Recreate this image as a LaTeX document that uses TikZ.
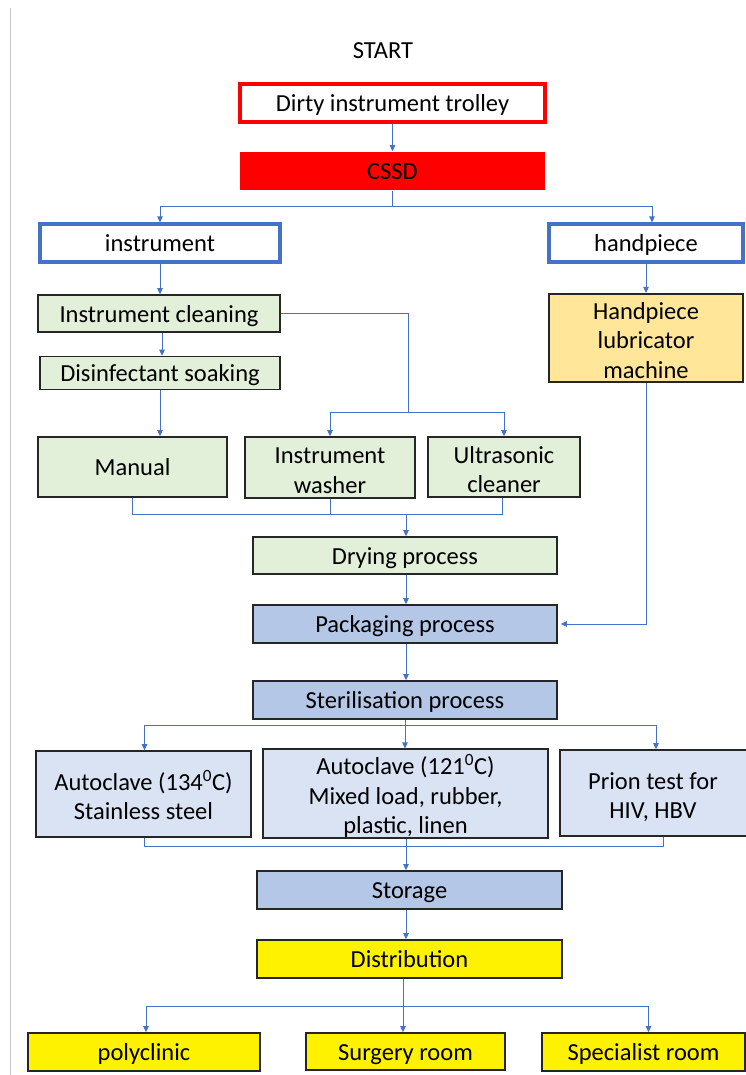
\documentclass[tikz,border=0pt]{standalone}
\usepackage{fontspec}
\setmainfont{Carlito}
\usetikzlibrary{arrows.meta}
\definecolor{linkblue}{HTML}{4472C4}
\definecolor{greenfill}{HTML}{E2F0D9}
\definecolor{bluefill}{HTML}{B4C7E7}
\definecolor{paleblue}{HTML}{DAE3F3}
\definecolor{lubefill}{HTML}{FFE699}
\definecolor{darkborder}{HTML}{262626}
\newcommand{\mlines}[2][0pt]{\kern#1\raisebox{-5pt}[\height][\depth]{\begin{tabular}{@{}c@{}}#2\end{tabular}}}
\tikzset{
  box/.style={draw=darkborder, line width=1.6pt, inner sep=0pt, align=center, font=\fontsize{24.5}{29.5}\selectfont},
  one/.style={text height=23.5pt, text depth=6pt},
  greenbox/.style={box, fill=greenfill},
  bluebox/.style={box, fill=bluefill},
  palebox/.style={box, fill=paleblue},
  yellowbox/.style={box, fill=yellow},
  lubebox/.style={box, fill=lubefill},
  redframe/.style={box, draw=red, line width=3.2pt, fill=white},
  blueframe/.style={box, draw=linkblue, line width=3.2pt, fill=white},
  redfill/.style={box, draw=none, fill=red},
  link/.style={draw=linkblue, line width=0.8pt},
  arr/.style={link, -{Triangle[width=5.5pt,length=6pt]}},
}
\begin{document}
\begin{tikzpicture}[x=1pt,y=-1pt]
\useasboundingbox (0,0) rectangle (745,1075);
\draw[gray!45, line width=0.8pt] (10,8) -- (10,1075);

\node[font=\fontsize{24.5}{29.5}\selectfont, one, inner sep=0pt] (start) at (383,50) {START};
\node[redframe, one, minimum width=305, minimum height=38] (dirty) at (392.5,103) {Dirty instrument trolley};
\node[redfill, one, minimum width=305, minimum height=38] (cssd) at (392.5,171) {CSSD};
\node[blueframe, one, minimum width=240, minimum height=38] (instr) at (160,243) {instrument};
\node[blueframe, one, minimum width=194, minimum height=38] (handp) at (646,243) {handpiece};
\node[greenbox, one, minimum width=242, minimum height=37] (clean) at (159,313.5) {Instrument cleaning};
\node[greenbox, one, minimum width=240, minimum height=33] (soak) at (160,373) {Disinfectant soaking};
\node[lubebox, minimum width=194, minimum height=86] (lube) at (646,338) {\mlines{Handpiece\\lubricator\\machine}};
\node[greenbox, one, minimum width=189, minimum height=60] (manual) at (132.5,467) {Manual};
\node[greenbox, minimum width=170, minimum height=61] (washer) at (330,467.5) {\mlines{Instrument\\washer}};
\node[greenbox, minimum width=152, minimum height=60] (ultra) at (504,467) {\mlines{Ultrasonic\\cleaner}};
\node[greenbox, one, minimum width=304, minimum height=37] (dry) at (405,555.5) {Drying process};
\node[bluebox, one, minimum width=304, minimum height=38] (pack) at (405,624) {Packaging process};
\node[bluebox, one, minimum width=304, minimum height=38] (ster) at (405,700) {Sterilisation process};
\node[palebox, minimum width=215, minimum height=86] (a134) at (143.5,794) {\mlines{Autoclave (134\textsuperscript{0}C)\\Stainless steel}};
\node[palebox, minimum width=285, minimum height=87] (a121) at (405.5,793.5) {\mlines{Autoclave (121\textsuperscript{0}C)\\Mixed load, rubber,\\plastic, linen}};
\node[palebox, minimum width=200, minimum height=86] (prion) at (660,793) {\mlines[-14pt]{Prion test for\\HIV, HBV}};
\node[bluebox, one, minimum width=305, minimum height=38] (storage) at (409.5,890) {Storage};
\node[yellowbox, one, minimum width=305, minimum height=38] (distr) at (409.5,959) {Distribution};
\node[yellowbox, one, minimum width=232, minimum height=38] (poly) at (144,1052) {polyclinic};
\node[yellowbox, one, minimum width=199, minimum height=37] (surgery) at (405.5,1051.5) {Surgery room};
\node[yellowbox, one, minimum width=203, minimum height=38] (spec) at (643.5,1052) {Specialist room};

% junctions
\coordinate (j1) at (392.5,206);
\coordinate (j2) at (408,412);
\coordinate (j3) at (406,514);
\coordinate (j4) at (405,725);
\coordinate (j5) at (406,846);
\coordinate (j6) at (403,1006);

\draw[arr] (dirty) -- (cssd);
\draw[link] (cssd.south) -- (j1);
\draw[arr] (j1) -| (instr.north);
\draw[arr] (j1) -| ([xshift=6]handp.north);
\draw[arr] (instr.south) -- (instr.south |- clean.north);
\draw[arr] (handp.south) -- (handp.south |- lube.north);
\draw[arr] ([xshift=3]clean.south) -- ([xshift=3]clean.south |- soak.north);
\draw[link] (clean.east) -| (j2);
\draw[arr] (j2) -| (washer.north);
\draw[arr] (j2) -| (ultra.north);
\draw[arr] (soak.south) -- (soak.south |- manual.north);
\draw[link] (manual.south) |- (j3);
\draw[link] ([xshift=-2]ultra.south) |- (j3);
\draw[link] (washer.south) -- (washer.south |- j3);
\draw[arr] (j3) -- (j3 |- dry.north);
\draw[arr] ([xshift=1]dry.south) -- ([xshift=1]pack.north);
\draw[arr] ([xshift=1]pack.south) -- ([xshift=1]ster.north);
\draw[arr, shorten >=3pt] (lube.south) |- (pack.east);
\draw[link] (ster.south) -- (j4);
\draw[arr] (j4) -| ([xshift=1]a134.north);
\draw[arr] (j4) -- (j4 |- a121.north);
\draw[arr] (j4) -| ([xshift=-4]prion.north);
\draw[link] ([xshift=1]a134.south) |- (j5);
\draw[link] ([xshift=3]prion.south) |- (j5);
\draw[arr] (a121.south -| j5) -- (j5 |- storage.north);
\draw[arr] (storage.south -| j5) -- (j5 |- distr.north);
\draw[link] (distr.south -| j6) -- (j6);
\draw[arr] (j6) -| ([xshift=2]poly.north);
\draw[arr] (j6) -- (j6 |- surgery.north);
\draw[arr] (j6) -| ([xshift=5]spec.north);
\end{tikzpicture}
\end{document}
